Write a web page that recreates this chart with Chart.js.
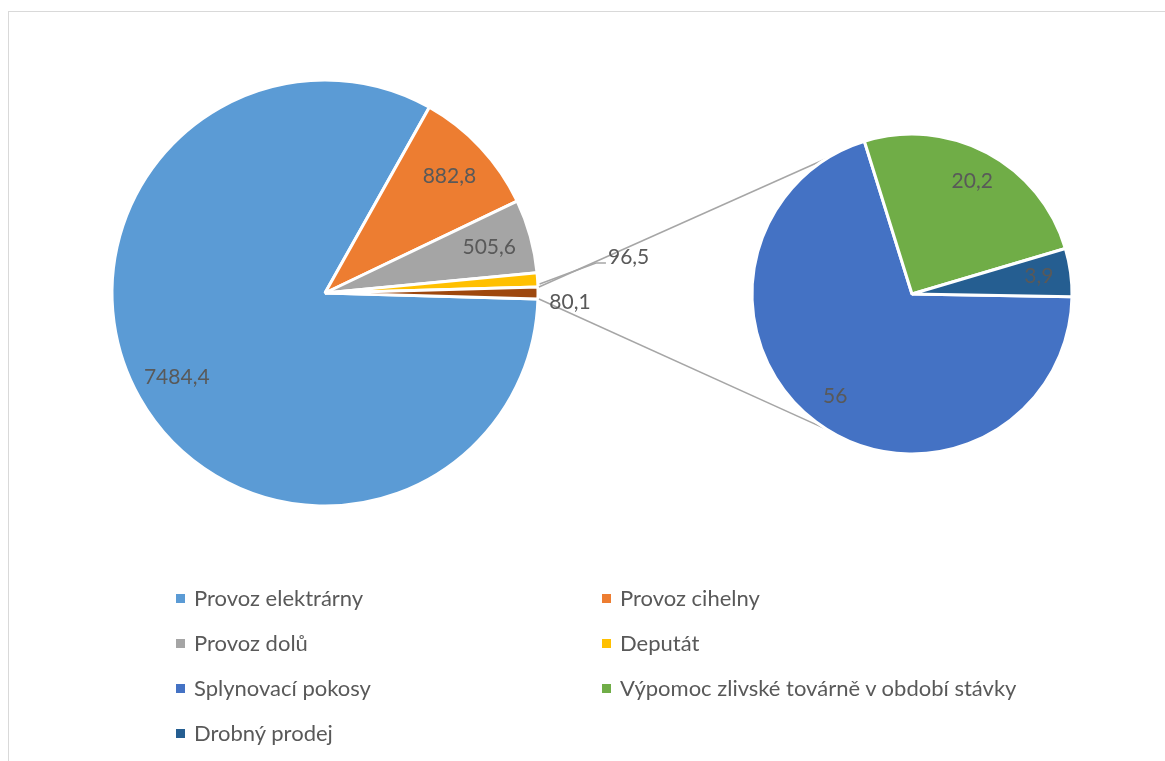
<!DOCTYPE html>
<html lang="cs">
<head>
<meta charset="utf-8">
<title>Spotřeba</title>
<script src="https://cdn.jsdelivr.net/npm/chart.js@4.4.1/dist/chart.umd.min.js"></script>
<style>
    html, body { margin: 0; padding: 0; background: #fff; }
    body { width: 1165px; height: 761px; position: relative; overflow: hidden; font-family: Lato, "Open Sans", sans-serif; }
    .frame { position: absolute; left: 8px; top: 11px; width: 1200px; height: 800px; border: 1px solid #D9D9D9; box-sizing: border-box; }
    canvas.layer { position: absolute; left: 0; top: 0; }
    #legend { position: absolute; left: 0; top: 0; }
    .item { position: absolute; color: #595959; font-size: 22px; line-height: 24px; white-space: nowrap; }
    .item i { position: absolute; left: 0; top: 8px; width: 9px; height: 9px; }
    .item span { position: absolute; left: 18px; top: 0; }
</style>
</head>
<body>
<div class="frame"></div>
<canvas id="mainChart" class="layer" width="1165" height="761"></canvas>
<canvas id="detailChart" class="layer" width="1165" height="761"></canvas>
<div id="legend"></div>

<script>
// main pie, the last slice is the sum of the detail pie
const mainLabels = ['Provoz elektrárny', 'Provoz cihelny', 'Provoz dolů', 'Deputát', 'Ostatní'];
const mainValues = [7484.4, 882.8, 505.6, 96.5, 80.1];
const mainColors = ['#5B9BD5', '#ED7D31', '#A5A5A5', '#FFC000', '#9E480E'];

// detail pie
const detailLabels = ['Splynovací pokosy', 'Výpomoc zlivské továrně v období stávky', 'Drobný prodej'];
const detailValues = [56, 20.2, 3.9];
const detailColors = ['#4472C4', '#70AD47', '#255E91'];

const textColor = '#595959';
const lineColor = '#A6A6A6';
const labelFont = '21px Lato';

function fmt(v) {
    return String(v).replace('.', ',');
}

let detailChart = null;

// value labels, inside at 80 % of the radius unless set as outside
const sliceLabels = {
    id: 'sliceLabels',
    afterDatasetsDraw(chart, args, opts) {
        const ctx = chart.ctx;
        const meta = chart.getDatasetMeta(0);
        const values = chart.data.datasets[0].data;
        const outside = opts.outside || {};
        ctx.save();
        ctx.font = labelFont;
        ctx.fillStyle = textColor;
        ctx.textAlign = 'center';
        ctx.textBaseline = 'middle';
        meta.data.forEach((arc, i) => {
            const p = arc.getProps(['x', 'y', 'startAngle', 'endAngle', 'outerRadius'], true);
            const mid = (p.startAngle + p.endAngle) / 2;
            const text = fmt(values[i]);
            const out = outside[i];
            if (out) {
                const ex = p.x + Math.cos(mid) * p.outerRadius;
                const ey = p.y + Math.sin(mid) * p.outerRadius;
                const lx = ex + out.dx, ly = ey + out.dy;
                if (out.leader) {
                    const w = ctx.measureText(text).width;
                    ctx.strokeStyle = lineColor;
                    ctx.lineWidth = 1.5;
                    ctx.beginPath();
                    ctx.moveTo(ex + 2, ey + 4);
                    ctx.lineTo(lx - w / 2 - 12, ly + 6);
                    ctx.lineTo(lx - w / 2 - 2, ly + 6);
                    ctx.stroke();
                }
                ctx.fillText(text, lx, ly);
            } else {
                const r = p.outerRadius * 0.8;
                ctx.fillText(text, p.x + Math.cos(mid) * r, p.y + Math.sin(mid) * r);
            }
        });
        ctx.restore();
    }
};

// lines from the edges of the last main slice, tangent to the detail pie
const connectors = {
    id: 'connectors',
    afterDatasetsDraw(chart) {
        if (!detailChart) return;
        const arcs = chart.getDatasetMeta(0).data;
        const a = arcs[arcs.length - 1].getProps(['x', 'y', 'startAngle', 'endAngle', 'outerRadius'], true);
        const d = detailChart.getDatasetMeta(0).data[0].getProps(['x', 'y', 'outerRadius'], true);
        const R = d.outerRadius - 1.5;
        const ctx = chart.ctx;
        ctx.save();
        ctx.strokeStyle = lineColor;
        ctx.lineWidth = 1.5;
        [[a.startAngle, -1], [a.endAngle, 1]].forEach(([ang, side]) => {
            const px = a.x + Math.cos(ang) * (a.outerRadius + 1);
            const py = a.y + Math.sin(ang) * (a.outerRadius + 1);
            const dist = Math.hypot(d.x - px, d.y - py);
            const base = Math.atan2(d.y - py, d.x - px);
            const dir = base + side * Math.asin(R / dist);
            const len = Math.sqrt(dist * dist - R * R);
            ctx.beginPath();
            ctx.moveTo(px, py);
            ctx.lineTo(px + Math.cos(dir) * len, py + Math.sin(dir) * len);
            ctx.stroke();
        });
        ctx.restore();
    }
};

const mainTotal = mainValues.reduce((s, v) => s + v, 0);
// put the middle of the last slice at three o'clock
const mainRotation = 90 + (mainValues[mainValues.length - 1] / 2) / mainTotal * 360;

const common = {
    responsive: false,
    animation: false,
    events: [],
    plugins: {
        legend: {display: false},
        tooltip: {enabled: false}
    }
};

detailChart = new Chart(document.getElementById('detailChart'), {
    type: 'pie',
    data: {
        labels: detailLabels,
        datasets: [{
            data: detailValues,
            backgroundColor: detailColors,
            borderColor: '#ffffff',
            borderWidth: 3
        }]
    },
    options: {
        ...common,
        rotation: 91,
        layout: {padding: {left: 750.5, top: 132.5, right: 1165 - 1073.5, bottom: 761 - 455.5}},
        plugins: {...common.plugins, sliceLabels: {}}
    },
    plugins: [sliceLabels]
});

new Chart(document.getElementById('mainChart'), {
    type: 'pie',
    data: {
        labels: mainLabels,
        datasets: [{
            data: mainValues,
            backgroundColor: mainColors,
            borderColor: '#ffffff',
            borderWidth: 3
        }]
    },
    options: {
        ...common,
        rotation: mainRotation,
        layout: {padding: {left: 110.5, top: 78.5, right: 1165 - 539.5, bottom: 761 - 507.5}},
        plugins: {
            ...common.plugins,
            sliceLabels: {
                outside: {
                    3: {dx: 91, dy: -23, leader: true},
                    4: {dx: 32, dy: 9}
                }
            }
        }
    },
    plugins: [connectors, sliceLabels]
});

// legend: main items without the summed slice, then the detail items, two per row
function buildLegend() {
    const items = [];
    mainLabels.slice(0, -1).forEach((l, i) => items.push([l, mainColors[i]]));
    detailLabels.forEach((l, i) => items.push([l, detailColors[i]]));
    const box = document.getElementById('legend');
    items.forEach(([label, color], i) => {
        const el = document.createElement('div');
        el.className = 'item';
        el.style.left = (i % 2 === 0 ? 176 : 602) + 'px';
        el.style.top = (586 + Math.floor(i / 2) * 45) + 'px';
        el.innerHTML = '<i style="background:' + color + '"></i><span></span>';
        el.querySelector('span').textContent = label;
        box.appendChild(el);
    });
}

buildLegend();
</script>
</body>
</html>
